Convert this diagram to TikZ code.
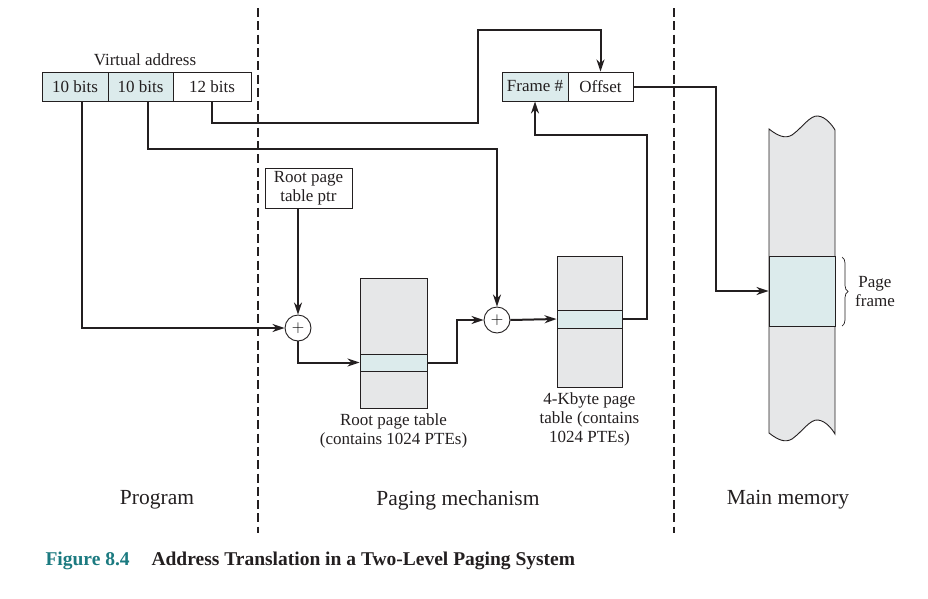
\documentclass[tikz,border=0pt]{standalone}
\usepackage{fontspec}
\setmainfont{Liberation Serif}
\usepackage{tikz}
\usetikzlibrary{arrows.meta,decorations.pathreplacing}
\definecolor{pgink}{HTML}{231F20}
\definecolor{pggray}{HTML}{E6E7E8}
\definecolor{pgteal}{HTML}{DCEBEC}
\definecolor{pgcaption}{HTML}{1B7A80}

\begin{document}
\begin{tikzpicture}[x=1pt, y=-1pt,
        txt/.style={font=\fontsize{17}{19}\selectfont, text=pgink},
        zone/.style={font=\fontsize{21.5}{24}\selectfont, text=pgink},
        cell/.style={txt, draw=pgink, line width=0.9pt, inner sep=0pt, minimum height=29pt},
        tbl/.style={draw=pgink, line width=0.9pt, fill=pggray, inner sep=0pt},
        entry/.style={draw=pgink, line width=0.9pt, fill=pgteal, inner sep=0pt},
        adder/.style={circle, draw=pgink, line width=0.9pt, fill=white, minimum size=26pt, inner sep=0pt},
        conn/.style={draw=pgink, line width=2pt, -{Stealth[length=12pt,width=8pt]}},
        divider/.style={draw=pgink, line width=2.3pt, dash pattern=on 9pt off 4.3pt},
      ]
      \useasboundingbox (0,0) rectangle (928,598);

      % dividers
      \draw[divider] (258,8) -- (258,533);
      \draw[divider] (674,8) -- (674,533);

      % virtual address
      \node[txt] (va) at (145,60) {Virtual address};
      \node[cell, fill=pgteal, minimum width=66pt] (b1) at (75,86.5)  {10 bits};
      \node[cell, fill=pgteal, minimum width=65pt] (b2) at (140.5,86.5) {10 bits};
      \node[cell, fill=white,  minimum width=78pt] (b3) at (212,86.5)  {12 bits};

      % physical address
      \node[cell, fill=pgteal, minimum width=66pt] (fr)  at (535,86.5) {Frame \#};
      \node[cell, fill=white,  minimum width=65pt] (off) at (600.5,86.5) {Offset};

      % root pointer and adders
      \node[cell, align=center, minimum width=87pt, minimum height=40pt] (rp) at (308.5,188) {Root page\\table ptr};
      \node[adder] (p1) at (298,328) {\fontsize{16}{16}\selectfont$+$};
      \node[adder] (p2) at (497,320) {\fontsize{16}{16}\selectfont$+$};

      % page tables
      \node[tbl, minimum width=67pt, minimum height=130pt] (rt) at (393.5,343) {};
      \node[entry, minimum width=67pt, minimum height=17pt] (re) at (393.5,362.5) {};
      \node[txt, align=center, below=2pt] (rtl) at (rt.south) {Root page table\\(contains 1024 PTEs)};
      \node[tbl, minimum width=65pt, minimum height=131pt] (kt) at (589.5,321.5) {};
      \node[entry, minimum width=65pt, minimum height=18pt] (ke) at (589.5,319) {};
      \node[txt, align=center, below=2pt] (ktl) at (kt.south) {4-Kbyte page\\table (contains\\1024 PTEs)};

      % main memory
      \draw[draw=pgink, line width=0.9pt, fill=pggray]
        (769,129) .. controls (778,136) and (785,139) .. (792,135)
                  .. controls (802,128) and (810,115) .. (818,116)
                  .. controls (826,117) and (832,125) .. (835,130)
        -- (835,434)
                  .. controls (832,429) and (826,421) .. (818,420)
                  .. controls (810,419) and (802,432) .. (792,439)
                  .. controls (785,443) and (778,440) .. (769,433)
        -- cycle;
      \node[entry, minimum width=66pt, minimum height=70pt] (pf) at (802,291) {};
      \draw[draw=pgink, line width=0.7pt, decorate, decoration={brace, amplitude=6pt}]
        (842,257) -- (842,326);
      \node[txt, align=center] (pfl) at (875,292) {Page\\frame};

      % connectors
      \draw[conn] ([xshift=7pt]b1.south) |- (p1.west);
      \draw[conn] ([xshift=7pt]b2.south) |- (p2.north |- 0,149) -- (p2.north);
      \draw[conn] (b3.south) |- (478,123) |- (off.north |- 0,30) -- (off.north);
      \draw[conn] (rp.south -| p1.north) -- (p1.north);
      \draw[conn] (p1.south) |- (re.west);
      \draw[conn] (re.east) -- ++(30,0) |- (p2.west);
      \draw[conn] (p2.east) -- (ke.west);
      \draw[conn] (ke.east) -- ++(25,0) |- (fr.south |- 0,135) -- (fr.south);
      \draw[conn] (off.east) -| (716,291) -- (pf.west);

      % zones
      \node[zone] (zp) at (157,500) {Program};
      \node[zone] (zm) at (458,500) {Paging mechanism};
      \node[zone] (zr) at (788,500) {Main memory};

      % caption
      \node[anchor=base west, font=\fontsize{19.5}{22}\selectfont\bfseries, text=pgcaption] (fig) at (42,565) {Figure 8.4};
      \node[anchor=base west, font=\fontsize{19.5}{22}\selectfont\bfseries, text=pgink] (cap) at (148,565) {Address Translation in a Two-Level Paging System};
    \end{tikzpicture}
\end{document}
